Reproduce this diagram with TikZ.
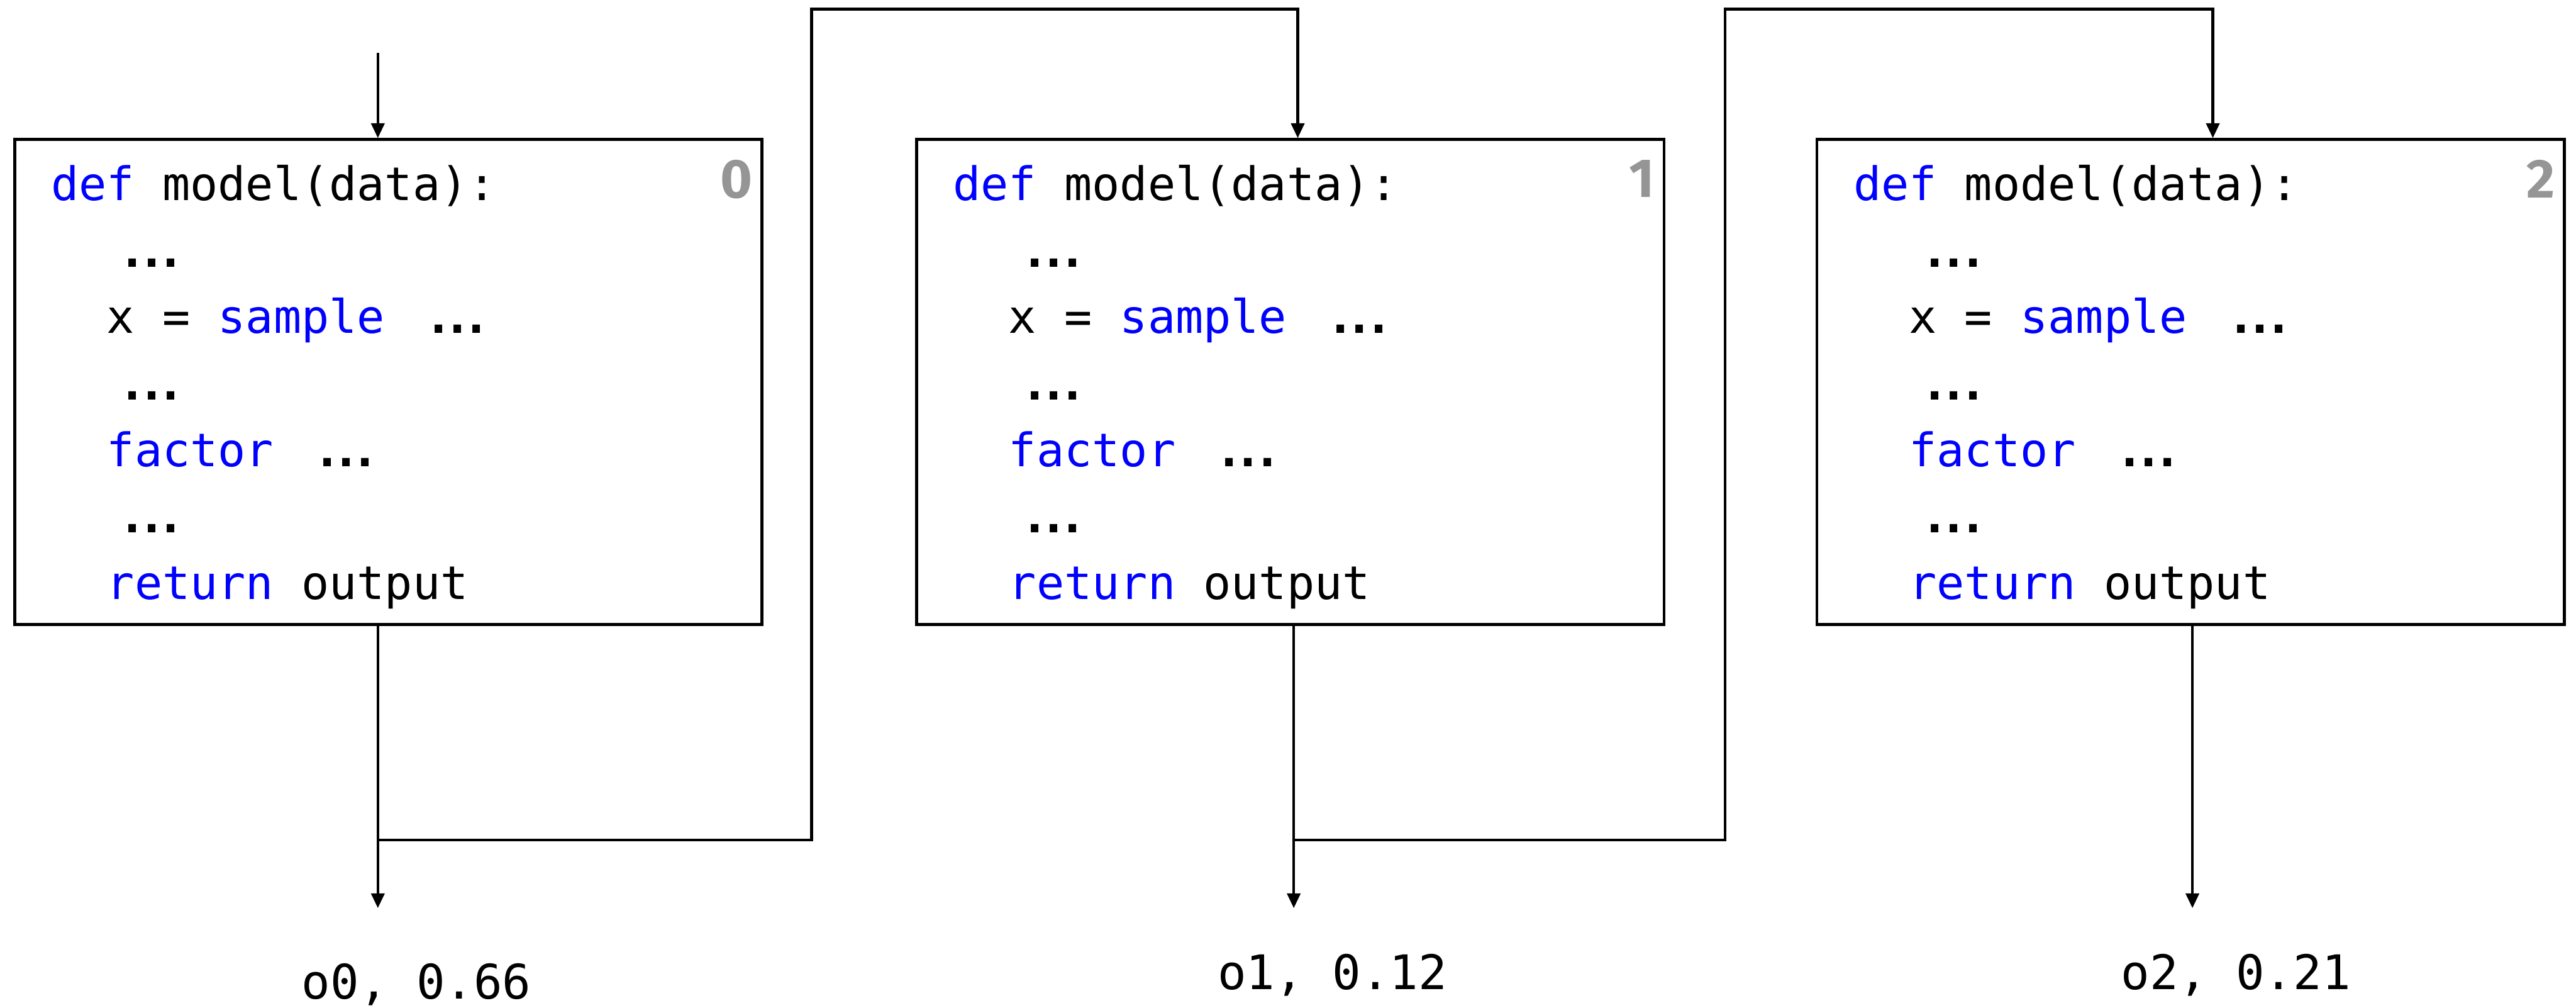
\documentclass[tikz,border=0pt]{standalone}
\usepackage{fontspec}
\setmonofont{DejaVu Sans Mono}
\newfontfamily\idxfont{Fira Sans}
\usepackage{tikz}
\usetikzlibrary{arrows.meta, positioning, calc}

\definecolor{kwblue}{RGB}{0,0,255}
\definecolor{idxgray}{RGB}{149,149,149}

\newcommand{\kw}[1]{\textcolor{kwblue}{#1}}
\newcommand{\gap}{\hphantom{xx}}
\newcommand{\more}{{\bfseries\kern0.26em.\kern-0.19em.\kern-0.19em.}}
\newcommand{\modelcode}{%
  \begin{tabular}[t]{@{}l@{}}
    \kw{def} model(data):\\
    \gap\more\\
    \gap x = \kw{sample} \more\\
    \gap\more\\
    \gap\kw{factor} \more\\
    \gap\more\\
    \gap\kw{return} output
  \end{tabular}}

\begin{document}
\begin{tikzpicture}[
    box/.style={draw, line width=1.05pt, minimum width=9.1cm, minimum height=5.9cm, inner sep=0pt, anchor=north west},
    code/.style={font=\ttfamily\fontsize{16}{23}\selectfont, inner sep=0pt, anchor=base west},
    idx/.style={font=\idxfont\bfseries\fontsize{19}{19}\selectfont, text=idxgray, inner sep=0pt},
    res/.style={font=\ttfamily\fontsize{16.5}{19}\selectfont, inner sep=0pt, anchor=base},
    flow/.style={line width=1pt},
    arr/.style={flow, -{Triangle[length=0.18cm, width=0.16cm]}}
]
    \useasboundingbox (0,0) rectangle (31.36,-12.26);

    % the three runs of the model
    \node[box] (m0) at (0.16,-1.68) {};
    \node[box] (m1) at (11.14,-1.68) {};
    \node[box] (m2) at (22.10,-1.68) {};

    \node[code] (c0) at ($(m0.north west)+(0.456,-0.76)$) {\modelcode};
    \node[code] (c1) at ($(m1.north west)+(0.456,-0.76)$) {\modelcode};
    \node[code] (c2) at ($(m2.north west)+(0.456,-0.76)$) {\modelcode};

    \node[idx, below left=0.26cm and 0.13cm of m0.north east] (n0) {0};
    \node[idx, below left=0.26cm and 0.13cm of m1.north east] (n1) {1};
    \node[idx, below left=0.26cm and 0.13cm of m2.north east] (n2) {2};

    % outputs with their weights
    \node[res] (o0) at (5.07,-12.156) {o0, 0.66};
    \node[res] (o1) at (16.22,-12.04) {o1, 0.12};
    \node[res] (o2) at (27.22,-12.04) {o2, 0.21};

    \coordinate (in0) at (4.60,-0.64);
    \coordinate (out0) at (4.60,-11.05);
    \coordinate (out1) at (15.75,-11.05);
    \coordinate (out2) at (26.69,-11.05);
    \coordinate (j0) at (4.60,-10.22);
    \coordinate (j1) at (15.75,-10.22);
    \coordinate (up0) at (9.88,-0.11);
    \coordinate (up1) at (21.00,-0.11);

    % input and outputs
    \draw[arr] (in0) -- (in0 |- m0.north);
    \draw[arr] (out0 |- m0.south) -- (out0);
    \draw[arr] (out1 |- m1.south) -- (out1);
    \draw[arr] (out2 |- m2.south) -- (out2);

    % each output is fed into the next run
    \draw[arr] (j0) -| (up0) -| ([xshift=0.09cm]m1.north);
    \draw[arr] (j1) -| (up1) -| ([xshift=0.27cm]m2.north);
\end{tikzpicture}
\end{document}
